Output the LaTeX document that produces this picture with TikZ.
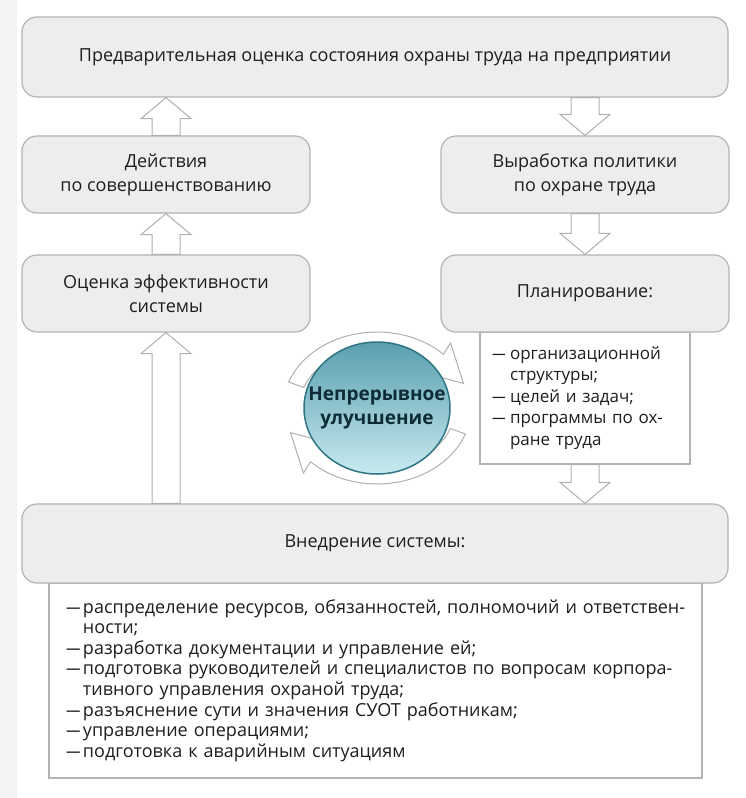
\documentclass[tikz,border=0pt]{standalone}
\usepackage{fontspec}
\setmainfont{Open Sans}
\usetikzlibrary{calc,shapes.geometric}
\definecolor{boxfill}{HTML}{EDEDED}
\definecolor{boxline}{HTML}{B3B3B3}
\definecolor{txt}{HTML}{1E1E1E}
\definecolor{arrline}{HTML}{B0B0B0}
\definecolor{circtop}{HTML}{5A9FAF}
\definecolor{circmid}{HTML}{9ED2DC}
\definecolor{circbot}{HTML}{C8EAF0}
\definecolor{circline}{HTML}{2E7484}
\definecolor{circtxt}{HTML}{0E2C36}
\definecolor{strip}{HTML}{F3F3F3}
\newcommand{\lidash}{\scalebox{0.8}[1]{—}}
\begin{document}
\begin{tikzpicture}[x=1pt,y=-1pt,
 gbox/.style={draw=boxline, fill=boxfill, rounded corners=15pt, line width=1.2pt, text=txt, align=center, font=\fontsize{18}{24}\selectfont, inner sep=0pt},
 lbox/.style={draw=boxline, fill=white, line width=1.2pt, text=txt, align=left, inner ysep=0pt},
 blk/.style={draw=arrline, fill=white, line width=1pt, line join=miter, to path={
   ($(\tikztostart)+(-14pt,0)$) -- ($(\tikztostart)+(14pt,0)$) -- ($(\tikztotarget)!21pt!(\tikztostart)+(14pt,0)$) -- ($(\tikztotarget)!21pt!(\tikztostart)+(25pt,0)$) -- (\tikztotarget) -- ($(\tikztotarget)!21pt!(\tikztostart)+(-25pt,0)$) -- ($(\tikztotarget)!21pt!(\tikztostart)+(-14pt,0)$) -- cycle}},
 carr/.style={draw=arrline, fill=white, line width=1pt, line join=miter}
]
\useasboundingbox (0,0) rectangle (746,798);
\fill[white] (0,0) rectangle (746,798);
\fill[strip] (0,0) rectangle (17,798);

\node[gbox, minimum width=706pt, minimum height=80pt] (top) at (375,57) {Предварительная оценка состояния охраны труда на предприятии};
\node[gbox, minimum width=288pt, minimum height=77pt] (act) at (166,174.5) {Действия\\по совершенствованию};
\node[gbox, minimum width=288pt, minimum height=77pt] (eval) at (166,293.5) {Оценка эффективности\\системы};
\node[gbox, minimum width=288pt, minimum height=77pt] (pol) at (585,174.5) {Выработка политики\\по охране труда};

\node[lbox, minimum width=210pt, minimum height=132pt, text width=186pt, inner xsep=12pt, font=\fontsize{17}{21.5}\selectfont] (planlist) at (585,398) {\makebox[18pt][l]{\lidash}организационной\\
\hspace*{18pt}структуры;\\
\makebox[18pt][l]{\lidash}целей и задач;\\
\makebox[18pt][l]{\lidash}программы по ох-\\
\hspace*{18pt}ране труда};
\node[gbox, minimum width=288pt, minimum height=77pt] (plan) at (585,293.5) {Планирование:};

\node[lbox, minimum width=653pt, minimum height=195pt, text width=625pt, inner xsep=14pt, font=\fontsize{18}{20.6}\selectfont] (impllist) at (375.5,680.5) {\hspace*{3pt}\makebox[17pt][l]{\lidash}распределение ресурсов, обязанностей, полномочий и ответствен-\\
\hspace*{20pt}ности;\\
\hspace*{3pt}\makebox[17pt][l]{\lidash}разработка документации и управление ей;\\
\hspace*{3pt}\makebox[17pt][l]{\lidash}подготовка руководителей и специалистов по вопросам корпора-\\
\hspace*{20pt}тивного управления охраной труда;\\
\hspace*{3pt}\makebox[17pt][l]{\lidash}разъяснение сути и значения СУОТ работникам;\\
\hspace*{3pt}\makebox[17pt][l]{\lidash}управление операциями;\\
\hspace*{3pt}\makebox[17pt][l]{\lidash}подготовка к аварийным ситуациям};
\node[gbox, minimum width=706pt, minimum height=79pt] (impl) at (375,543.5) {Внедрение системы:};

\coordinate (a1t) at (top.south -| act.north);
\coordinate (a3s) at (impl.north -| eval.south);
\coordinate (a4s) at (top.south -| pol.north);
\coordinate (a6t) at (impl.north -| planlist.south);
\path[blk] (act.north) to (a1t);
\path[blk] (eval.north) to (act.south);
\path[blk] (a3s) to (eval.south);
\path[blk] (a4s) to (pol.north);
\path[blk] (pol.south) to (plan.north);
\path[blk] (planlist.south) to (a6t);

\begin{scope}[shift={(377,408)}]
\path[carr] (160:94pt and 76pt) arc[start angle=160, end angle=45, x radius=94pt, y radius=76pt] -- (45:104pt and 92pt) -- (20:92pt and 72pt) -- (45:66pt and 50pt) -- (45:78pt and 60pt) arc[start angle=45, end angle=160, x radius=78pt, y radius=60pt] -- cycle;
\path[carr] (-20:94pt and 76pt) arc[start angle=-20, end angle=-135, x radius=94pt, y radius=76pt] -- (-135:104pt and 92pt) -- (-160:92pt and 72pt) -- (-135:66pt and 50pt) -- (-135:78pt and 60pt) arc[start angle=-135, end angle=-20, x radius=78pt, y radius=60pt] -- cycle;
\end{scope}
\node[ellipse, minimum width=146pt, minimum height=132pt, draw=circline, line width=1.5pt, top color=circtop, middle color=circmid, bottom color=circbot, text=circtxt, font=\bfseries\fontsize{19}{24}\selectfont, align=center, inner sep=0pt] (circ) at (377,408) {\makebox[0pt]{Непрерывное}\\\makebox[0pt]{улучшение}};
\end{tikzpicture}
\end{document}
